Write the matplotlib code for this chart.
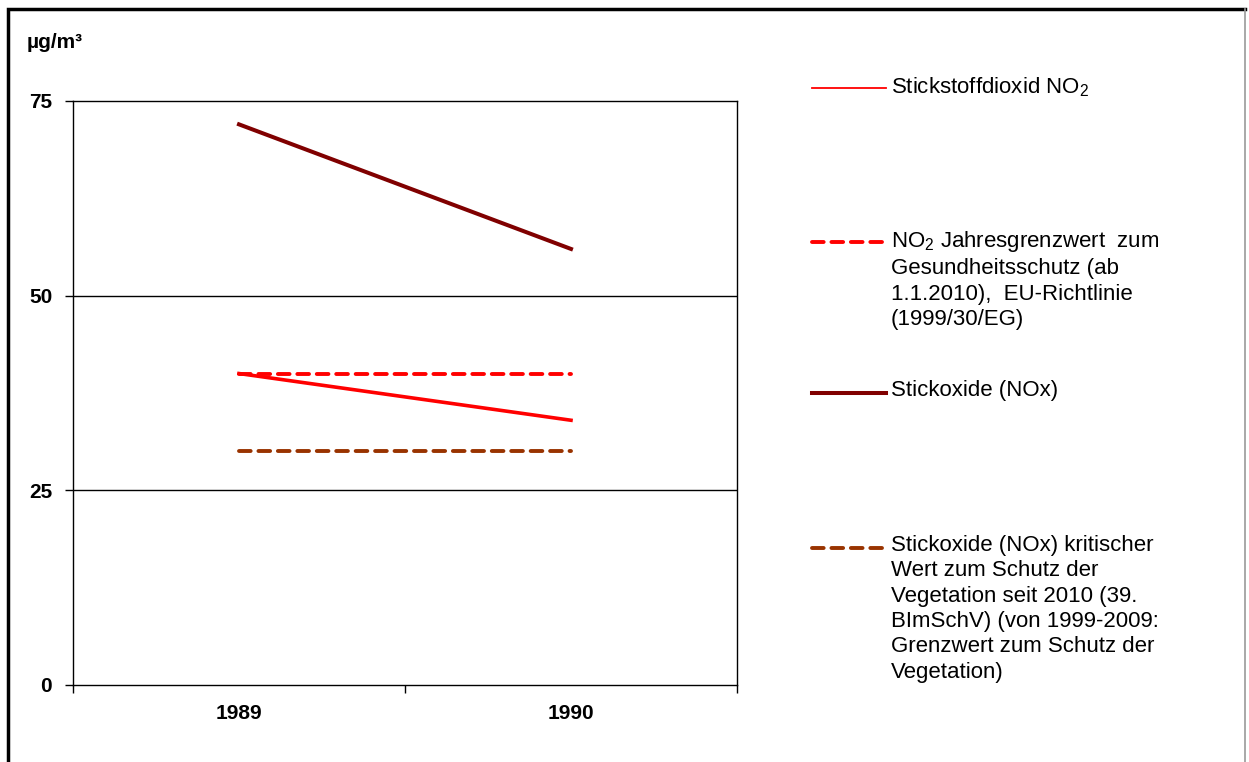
import matplotlib
matplotlib.use("Agg")
import matplotlib.pyplot as plt
from matplotlib.lines import Line2D
from matplotlib import font_manager

# data
years = ["1989", "1990"]
no2 = [40, 34]
no2_limit = [40, 40]
nox = [72, 56]
nox_critical = [30, 30]
yticks = [0, 25, 50, 75]

labels = [
    "Stickstoffdioxid NO$_2$",
    "NO$_2$ Jahresgrenzwert  zum\nGesundheitsschutz (ab\n1.1.2010),  EU-Richtlinie\n(1999/30/EG)",
    "Stickoxide (NOx)",
    "Stickoxide (NOx) kritischer\nWert zum Schutz der\nVegetation seit 2010 (39.\nBImSchV) (von 1999-2009:\nGrenzwert zum Schutz der\nVegetation)",
]

names = {f.name for f in font_manager.fontManager.ttflist}
fam = "Liberation Sans" if "Liberation Sans" in names else "DejaVu Sans"
plt.rcParams["font.family"] = fam
plt.rcParams["mathtext.fontset"] = "custom"
plt.rcParams["mathtext.rm"] = fam

W, H = 1249, 762
fig = plt.figure(figsize=(W / 100, H / 100), dpi=100)
ax = fig.add_axes([73 / W, 1 - 685 / H, (737 - 73) / W, (685 - 101) / H])

x = [0.5, 1.5]
red = "#FF0000"
dark = "#800000"
brown = "#993300"
ax.plot(x, no2_limit, color=red, lw=2.8, dashes=(3, 2), dash_capstyle="round", zorder=3)
ax.plot(x, nox_critical, color=brown, lw=2.8, dashes=(3, 2), dash_capstyle="round", zorder=3)
ax.plot(x, no2, color=red, lw=2.6, zorder=4)
ax.plot(x, nox, color=dark, lw=2.9, zorder=4)

ax.set_xlim(0, 2)
ax.set_ylim(0, 75)
ax.set_yticks(yticks)
ax.set_xticks([0, 1, 2])
ax.set_xticklabels([])
ax.set_xticks(x, minor=True)
ax.set_xticklabels(years, minor=True, fontsize=15, fontweight="bold")
ax.tick_params(axis="x", which="minor", length=0, pad=14)
ax.tick_params(axis="x", which="major", length=6, width=1, direction="out")
ax.tick_params(axis="y", length=6, width=1, direction="out", pad=9)
for lab in ax.get_yticklabels():
    lab.set_fontsize(15)
    lab.set_fontweight("bold")
for v in [25, 50]:
    ax.axhline(v, color="black", lw=1, zorder=1)
for s in ax.spines.values():
    s.set_linewidth(1)

fig.text(27 / W, 1 - 42 / H, "µg/m³", fontsize=15, fontweight="bold", va="center", ha="left")

# legend drawn by hand
leg_y = [88, 242, 393, 548]
styles = [
    dict(color=red, lw=1.3),
    dict(color=red, lw=2.8, dashes=(3, 2), dash_capstyle="round"),
    dict(color=dark, lw=2.9),
    dict(color=brown, lw=2.8, dashes=(3, 2), dash_capstyle="round"),
]
for yy, st, lab in zip(leg_y, styles, labels):
    fy = 1 - yy / H
    fig.add_artist(Line2D([812 / W, 886 / W], [fy, fy], transform=fig.transFigure, **st))
    fig.text(891 / W, fy + 13 / H, lab, fontsize=16, va="top", ha="left", linespacing=1.27)

# outer frame: thick left and top, thin grey right
fl, ft, fr = 8 / W, 1 - 9 / H, 1245 / W
fig.add_artist(Line2D([fl, fl, fr], [0, ft, ft], transform=fig.transFigure,
                      color="black", lw=2.5, solid_joinstyle="miter"))
fig.add_artist(Line2D([fr, fr], [0, ft], transform=fig.transFigure, color="#999999", lw=1.2))

fig.savefig("out.png", dpi=100)
